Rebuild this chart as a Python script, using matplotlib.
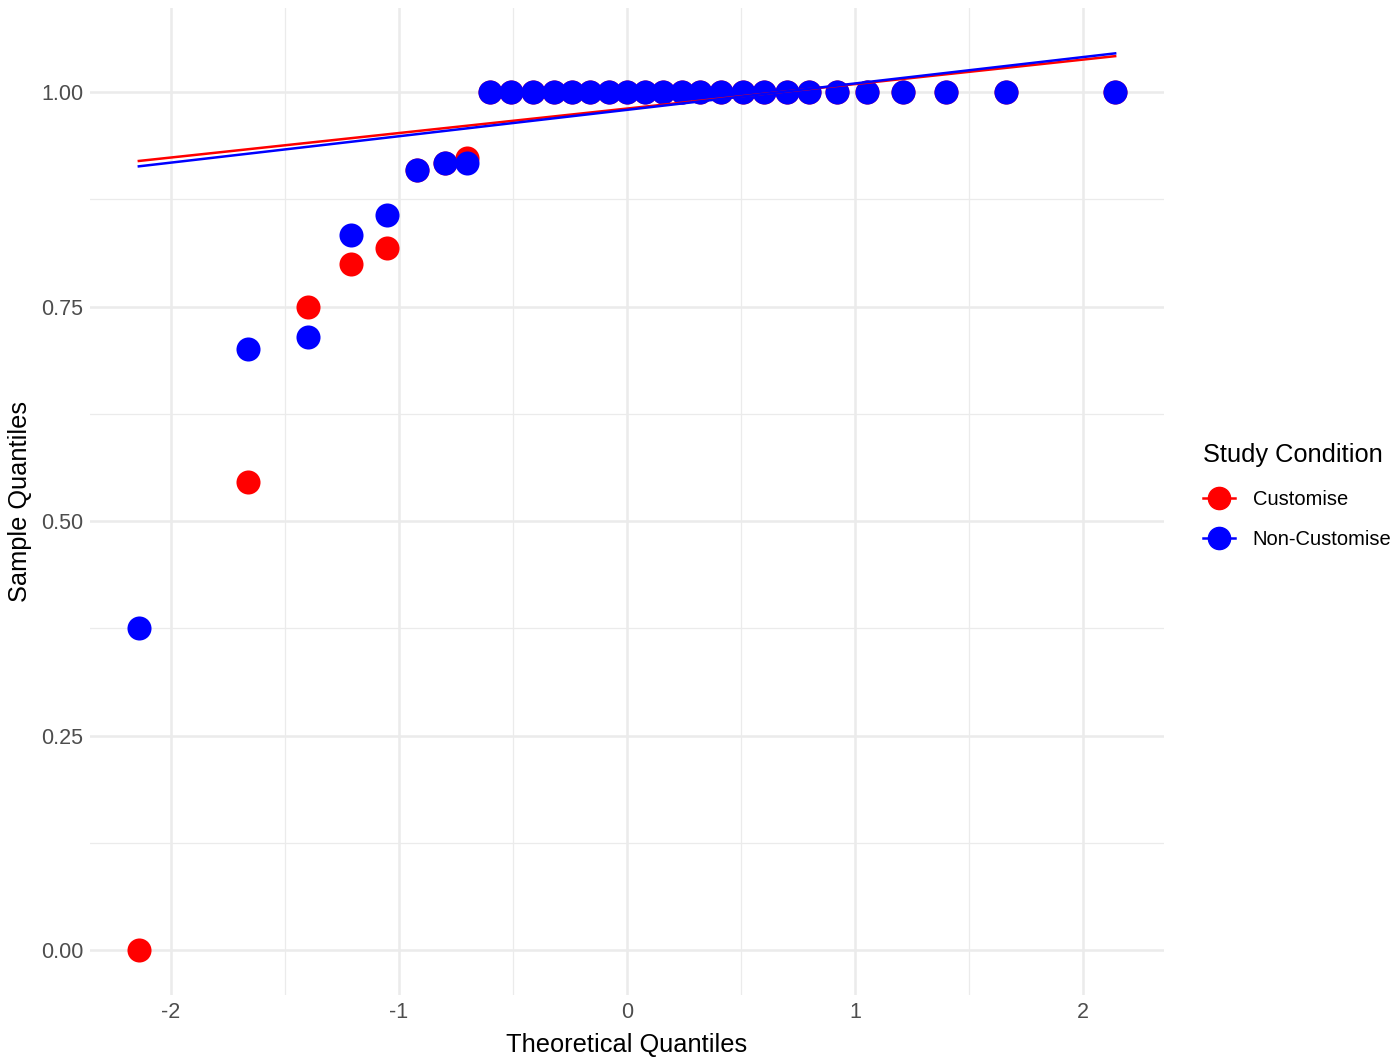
import numpy as np
import matplotlib
matplotlib.use('Agg')
import matplotlib.pyplot as plt
from matplotlib.lines import Line2D

plt.rcParams['font.family'] = ['Liberation Sans', 'DejaVu Sans']
plt.rcParams['axes.unicode_minus'] = False

# theoretical normal quantiles (31 points per group)
theo = [-2.14, -1.66, -1.40, -1.21, -1.05, -0.92, -0.80, -0.70, -0.60, -0.51,
        -0.41, -0.32, -0.24, -0.16, -0.08, 0.00, 0.08, 0.16, 0.24, 0.32,
        0.41, 0.51, 0.60, 0.70, 0.80, 0.92, 1.05, 1.21, 1.40, 1.66, 2.14]

# sample quantiles (sorted scores) per study condition
customise = [0.00, 0.545, 0.75, 0.80, 0.818, 0.909, 0.917, 0.923] + [1.00] * 23
non_customise = [0.375, 0.70, 0.714, 0.833, 0.857, 0.909, 0.917, 0.917] + [1.00] * 23

groups = ['Customise', 'Non-Customise']
colors = ['#FF0000', '#0000FF']
series = [customise, non_customise]

fig = plt.figure(figsize=(14, 10.6), dpi=100)
ax = fig.add_axes([0.0643, 0.0613, 0.7671, 0.9312])

# points
for vals, c in zip(series, colors):
    ax.scatter(theo, vals, s=300, color=c, zorder=3, linewidths=0)

# qq lines through the quartiles (like stat_qq_line)
x = np.array(theo)
for vals, c in zip(series, colors):
    y = np.array(vals)
    q25, q75 = np.percentile(y, [25, 75])
    z25, z75 = -0.6745, 0.6745
    slope = (q75 - q25) / (z75 - z25)
    icpt = q25 - slope * z25
    ax.plot([x.min(), x.max()], [icpt + slope * x.min(), icpt + slope * x.max()],
            color=c, lw=1.8, zorder=4)

ax.set_xlim(-2.354, 2.354)
ax.set_ylim(-0.0523, 1.098)
ax.set_xticks([-2, -1, 0, 1, 2])
ax.set_xticks([-1.5, -0.5, 0.5, 1.5], minor=True)
ax.set_yticks([0, 0.25, 0.5, 0.75, 1.0])
ax.set_yticklabels(['0.00', '0.25', '0.50', '0.75', '1.00'])
ax.set_yticks([0.125, 0.375, 0.625, 0.875], minor=True)
ax.grid(which='major', color='#EBEBEB', lw=1.8, zorder=0)
ax.grid(which='minor', color='#EBEBEB', lw=0.9, zorder=0)
ax.set_axisbelow(True)
for s in ax.spines.values():
    s.set_visible(False)
ax.tick_params(which='both', length=0, labelsize=15.5, labelcolor='#4D4D4D', pad=5)
ax.set_xlabel('Theoretical Quantiles', fontsize=18.3, labelpad=7)
ax.set_ylabel('Sample Quantiles', fontsize=18.3, labelpad=6)

handles = [Line2D([0], [0], color=c, marker='o', markersize=16, lw=1.8) for c in colors]
leg = fig.legend(handles, groups, title='Study Condition', loc='center left',
                 bbox_to_anchor=(0.846, 0.532), frameon=False, fontsize=14.5,
                 title_fontsize=18.3, handlelength=1.6, handletextpad=0.9,
                 labelspacing=1.05)
leg._legend_box.align = 'left'
leg._legend_box.sep = 16

fig.savefig('out.png', dpi=100, facecolor='white')
